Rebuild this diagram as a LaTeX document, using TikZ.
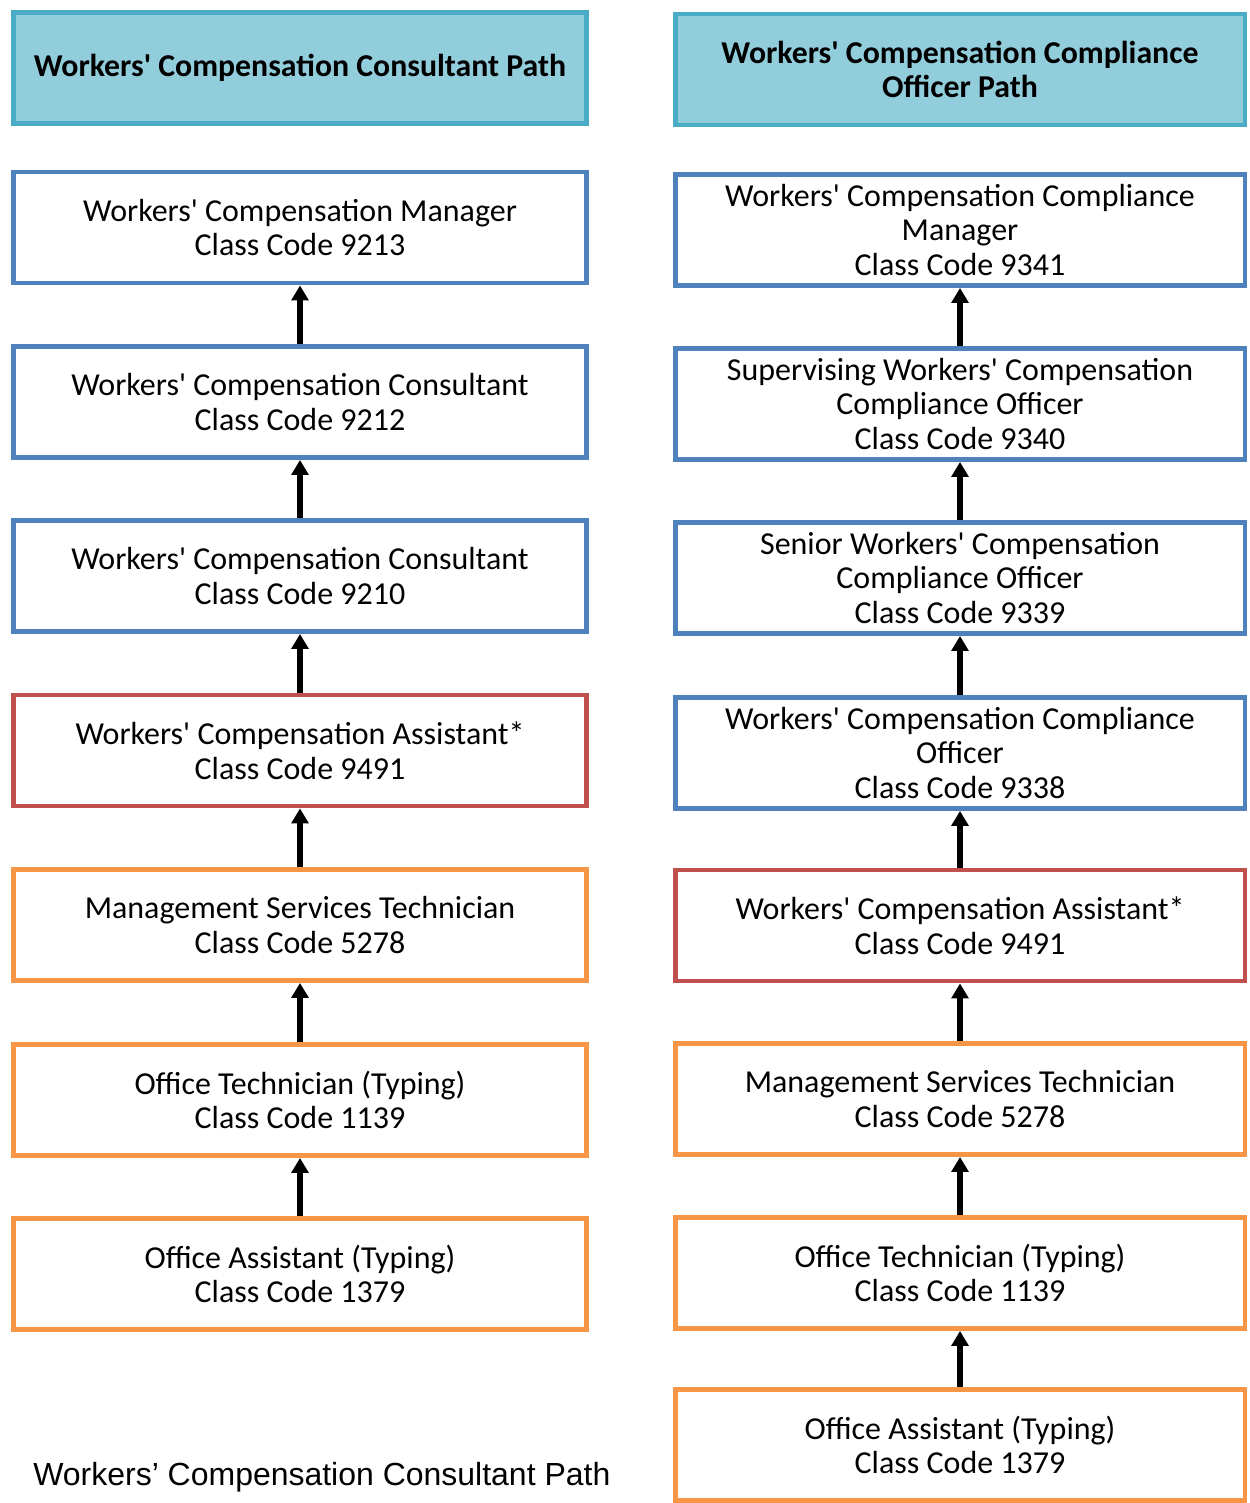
\documentclass[tikz,border=0pt]{standalone}
\usepackage{fontspec}
\usepackage{xcolor}
\usepackage{tikz}
\newfontfamily\boxfont{Carlito}
\newfontfamily\notefont{Liberation Sans}
\definecolor{pathblue}{HTML}{4F81BD}
\definecolor{pathred}{HTML}{C0504D}
\definecolor{pathorange}{HTML}{F79646}
\definecolor{headfill}{HTML}{92CDDC}
\definecolor{headline}{HTML}{4BACC6}
\usetikzlibrary{arrows.meta, positioning}

\tikzset{
  jobbox/.style={draw, line width=2.8pt, fill=white, minimum height=2.22cm,
    align=center, font=\boxfont\fontsize{18.2}{19.8}\selectfont, inner sep=0pt},
  leftbox/.style={jobbox, minimum width=11.48cm},
  rightbox/.style={jobbox, minimum width=11.4cm},
  headbox/.style={jobbox, draw=headline, fill=headfill,
    font=\boxfont\bfseries\fontsize{18.1}{19.8}\selectfont},
  uparrow/.style={line width=3.2pt, -{Triangle[width=9.5pt,length=8.5pt]}}
}

\begin{document}
\begin{tikzpicture}[x=0.02cm, y=-0.02cm]
\useasboundingbox (0,0) rectangle (1249,1503);

% Consultant path
\node[leftbox, headbox] (LH) at (300,68) {Workers' Compensation Consultant Path};
\node[leftbox, draw=pathblue] (L1) at (300,227.5) {Workers' Compensation Manager\\Class Code 9213};
\node[leftbox, draw=pathblue] (L2) at (300,402) {Workers' Compensation Consultant\\Class Code 9212};
\node[leftbox, draw=pathblue] (L3) at (300,576) {Workers' Compensation Consultant\\Class Code 9210};
\node[leftbox, draw=pathred] (L4) at (300,750.5) {Workers' Compensation Assistant*\\Class Code 9491};
\node[leftbox, draw=pathorange] (L5) at (300,925) {Management Services Technician\\Class Code 5278};
\node[leftbox, draw=pathorange] (L6) at (300,1100) {Office Technician (Typing)\\Class Code 1139};
\node[leftbox, draw=pathorange] (L7) at (300,1274) {Office Assistant (Typing)\\Class Code 1379};

% Compliance officer path
\node[rightbox, headbox] (RH) at (960,69.5) {Workers' Compensation Compliance\\Officer Path};
\node[rightbox, draw=pathblue] (R1) at (960,230) {Workers' Compensation Compliance\\Manager\\Class Code 9341};
\node[rightbox, draw=pathblue] (R2) at (960,404) {Supervising Workers' Compensation\\Compliance Officer\\Class Code 9340};
\node[rightbox, draw=pathblue] (R3) at (960,578) {Senior Workers' Compensation\\Compliance Officer\\Class Code 9339};
\node[rightbox, draw=pathblue] (R4) at (960,753) {Workers' Compensation Compliance\\Officer\\Class Code 9338};
\node[rightbox, draw=pathred] (R5) at (960,925.5) {Workers' Compensation Assistant*\\Class Code 9491};
\node[rightbox, draw=pathorange] (R6) at (960,1099) {Management Services Technician\\Class Code 5278};
\node[rightbox, draw=pathorange] (R7) at (960,1273) {Office Technician (Typing)\\Class Code 1139};
\node[rightbox, draw=pathorange] (R8) at (960,1445) {Office Assistant (Typing)\\Class Code 1379};

% Promotion arrows
\foreach \from/\to in {L2/L1, L3/L2, L4/L3, L5/L4, L6/L5, L7/L6,
    R2/R1, R3/R2, R4/R3, R5/R4, R6/R5, R7/R6, R8/R7} {
  \draw[uparrow] (\from.north) -- (\to.south);
}

% Note below the left path
\node[anchor=base west, inner sep=0pt, font=\notefont\fontsize{18.2}{21}\selectfont] (note) at (33,1485)
  {Workers’ Compensation Consultant Path};
\end{tikzpicture}
\end{document}
